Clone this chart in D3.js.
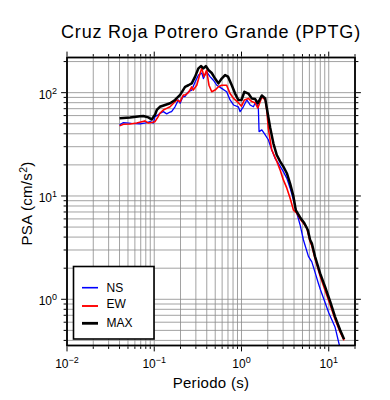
<!DOCTYPE html>
<html>
<head>
<meta charset="utf-8">
<script src="https://cdn.jsdelivr.net/npm/d3@7"></script>
<style>
  body { margin: 0; background: #fff; }
  text { font-family: "Liberation Sans", Arial, Helvetica, sans-serif; fill: #000; }
</style>
</head>
<body>
<div id="chart"></div>
<script>
// periods (s) and PSA (cm/s2)
var periodNS = [0.040, 0.0443, 0.055, 0.0687, 0.080, 0.0896, 0.0977, 0.102, 0.111, 0.116, 0.127, 0.139, 0.152, 0.158, 0.173, 0.189, 0.198, 0.212, 0.2256, 0.246, 0.269, 0.294, 0.321, 0.351, 0.366, 0.398, 0.436, 0.476, 0.521, 0.593, 0.676, 0.74, 0.81, 0.92, 0.964, 1.05, 1.15, 1.256, 1.37, 1.46, 1.56, 1.59, 1.71, 1.87, 2.03, 2.22, 2.43, 2.65, 3.02, 3.31, 3.61, 3.94, 4.31, 4.70, 5.13, 5.85, 6.4, 7.0, 7.6, 8.0, 10.0, 11.8, 13.3];
var psaNS = [48.6, 51.4, 50.5, 49.8, 51, 52.4, 50.8, 58.6, 61, 63, 65.5, 62.3, 65, 65.5, 73, 85, 79, 91, 92, 102, 106, 127, 148, 155, 137, 160, 143, 132, 118, 110, 102, 85, 76, 73, 65.5, 73, 85, 76, 73, 82, 71, 42, 43.6, 39, 35, 28, 23, 20.7, 17.2, 14.8, 11.9, 9.2, 6.8, 5.24, 3.75, 2.6, 2.3, 1.8, 1.43, 1.25, 0.74, 0.54, 0.353];

var periodEW = [0.040, 0.0443, 0.0528, 0.063, 0.072, 0.078, 0.0855, 0.0935, 0.102, 0.111, 0.116, 0.127, 0.139, 0.152, 0.166, 0.182, 0.198, 0.216, 0.2256, 0.246, 0.269, 0.28, 0.307, 0.336, 0.351, 0.372, 0.398, 0.424, 0.456, 0.498, 0.544, 0.593, 0.676, 0.74, 0.81, 0.92, 1.0, 1.08, 1.2, 1.31, 1.43, 1.54, 1.71, 1.87, 1.95, 2.03, 2.22, 2.54, 2.77, 3.02, 3.31, 3.61, 3.94, 4.31, 4.70, 5.26, 5.6, 6.12, 6.4, 6.98, 7.97, 9.09, 10.4, 11.8, 13.5, 15.0];
var psaEW = [47.7, 49.4, 49.8, 50.8, 52.4, 53.3, 50.8, 51.4, 52.4, 58.6, 63, 68, 70.5, 73, 79, 85, 81.8, 95, 95, 100, 114, 106, 118, 155, 172, 143, 165, 118, 102, 106, 114, 118, 118, 98, 88, 80, 74, 85, 88, 82, 80, 71, 91, 85, 68, 45, 28, 21.6, 17.9, 14.3, 11.9, 9.5, 7.3, 6.8, 6.0, 5.3, 4.9, 3.6, 3.3, 2.45, 1.68, 1.22, 0.88, 0.64, 0.48, 0.40];

var periodMAX = [0.040, 0.0528, 0.0687, 0.075, 0.0855, 0.0935, 0.102, 0.107, 0.116, 0.133, 0.152, 0.173, 0.198, 0.2256, 0.246, 0.269, 0.294, 0.321, 0.345, 0.366, 0.39, 0.42, 0.456, 0.498, 0.544, 0.593, 0.648, 0.70, 0.774, 0.845, 0.92, 1.0, 1.08, 1.2, 1.31, 1.43, 1.54, 1.71, 1.87, 1.95, 2.13, 2.32, 2.54, 2.77, 3.02, 3.31, 3.61, 3.94, 4.19, 4.70, 5.26, 5.76, 6.12, 6.4, 6.98, 7.97, 9.09, 10.4, 11.8, 13.5, 15.0];
var psaMAX = [56.5, 57.6, 59, 59.5, 57.6, 55, 61, 68, 73, 76, 79, 85, 95, 114, 118, 123, 143, 172, 181, 172, 181, 165, 155, 137, 123, 137, 148, 143, 118, 98, 85, 85, 102, 98, 88, 87, 79, 94, 88, 71, 46, 32.3, 24.9, 21.6, 19.2, 16.6, 13.2, 9.9, 7.3, 6.2, 5.44, 4.68, 3.75, 3.48, 2.58, 1.78, 1.32, 0.95, 0.68, 0.505, 0.41];

var xDecades = [-2, -1, 0, 1];
var yDecades = [0, 1, 2];
var seriesNames = ["NS", "EW", "MAX"];
var seriesColors = ["#0000ff", "#ff0000", "#000000"];
var seriesWidths = [1.3, 1.6, 2.5];

var width = 390, height = 400;
var plot = { left: 67, right: 355, top: 57.5, bottom: 345.5 };

var svg = d3.select("#chart").append("svg")
    .attr("width", width)
    .attr("height", height);

var x = d3.scaleLog().domain([0.01, 20]).range([plot.left, plot.right]);
var y = d3.scaleLog().domain([0.357, 219]).range([plot.bottom, plot.top]);

// grid values 1..9 per decade inside the domain
function logGrid(scale, lo, hi) {
    var vals = [];
    var dom = scale.domain();
    for (var d = lo; d <= hi; d++) {
        for (var m = 1; m <= 9; m++) {
            var v = m * Math.pow(10, d);
            if (v >= dom[0] * 0.999 && v <= dom[1] * 1.001) vals.push({ v: v, major: m == 1 });
        }
    }
    return vals;
}
var xGrid = logGrid(x, -2, 1);
var yGrid = logGrid(y, -1, 2);

var grid = svg.append("g").attr("stroke", "#8a8a8a").attr("stroke-width", 0.8);
grid.selectAll(".gx").data(xGrid).join("line")
    .attr("x1", d => x(d.v)).attr("x2", d => x(d.v))
    .attr("y1", plot.top).attr("y2", plot.bottom);
grid.selectAll(".gy").data(yGrid).join("line")
    .attr("y1", d => y(d.v)).attr("y2", d => y(d.v))
    .attr("x1", plot.left).attr("x2", plot.right);

// curves
svg.append("clipPath").attr("id", "clip").append("rect")
    .attr("x", plot.left).attr("y", plot.top)
    .attr("width", plot.right - plot.left).attr("height", plot.bottom - plot.top);

var line = d3.line().x(d => x(d[0])).y(d => y(d[1]));
var series = [
    d3.zip(periodNS, psaNS),
    d3.zip(periodEW, psaEW),
    d3.zip(periodMAX, psaMAX)
];
svg.append("g").attr("clip-path", "url(#clip)")
    .selectAll("path").data(series).join("path")
    .attr("d", line)
    .attr("fill", "none")
    .attr("stroke", (d, i) => seriesColors[i])
    .attr("stroke-width", (d, i) => seriesWidths[i])
    .attr("stroke-linejoin", "round");

// frame
svg.append("rect")
    .attr("x", plot.left).attr("y", plot.top)
    .attr("width", plot.right - plot.left).attr("height", plot.bottom - plot.top)
    .attr("fill", "none").attr("stroke", "#000").attr("stroke-width", 1.8);

// ticks on all four sides, pointing out
var ticks = svg.append("g").attr("stroke", "#000").attr("stroke-width", 1);
function tickLen(d) { return d.major ? 5 : 2.5; }
ticks.selectAll(".tb").data(xGrid).join("line")
    .attr("x1", d => x(d.v)).attr("x2", d => x(d.v))
    .attr("y1", plot.bottom + 0.9).attr("y2", d => plot.bottom + 0.9 + tickLen(d));
ticks.selectAll(".tt").data(xGrid).join("line")
    .attr("x1", d => x(d.v)).attr("x2", d => x(d.v))
    .attr("y1", plot.top - 0.9).attr("y2", d => plot.top - 0.9 - tickLen(d));
ticks.selectAll(".tl").data(yGrid).join("line")
    .attr("y1", d => y(d.v)).attr("y2", d => y(d.v))
    .attr("x1", plot.left - 0.9).attr("x2", d => plot.left - 0.9 - tickLen(d));
ticks.selectAll(".tr").data(yGrid).join("line")
    .attr("y1", d => y(d.v)).attr("y2", d => y(d.v))
    .attr("x1", plot.right + 0.9).attr("x2", d => plot.right + 0.9 + tickLen(d));

// tick labels 10^n
function powLabel(sel) {
    sel.append("tspan").text("10");
    sel.append("tspan").attr("dy", -5).attr("font-size", 9).text(d => d < 0 ? "\u2212" + (-d) : d);
}
svg.selectAll(".xl").data(xDecades).join("text")
    .attr("x", d => x(Math.pow(10, d)))
    .attr("y", 367.5)
    .attr("text-anchor", "middle")
    .attr("font-size", 12)
    .call(powLabel);
svg.selectAll(".yl").data(yDecades).join("text")
    .attr("x", 57)
    .attr("y", d => y(Math.pow(10, d)) + 6)
    .attr("text-anchor", "end")
    .attr("font-size", 12)
    .call(powLabel);

// title and axis labels
svg.append("text")
    .attr("x", (plot.left + plot.right) / 2).attr("y", 38)
    .attr("text-anchor", "middle").attr("font-size", 18)
    .attr("letter-spacing", 0.8)
    .text("Cruz Roja Potrero Grande (PPTG)");
svg.append("text")
    .attr("x", (plot.left + plot.right) / 2).attr("y", 387.5)
    .attr("text-anchor", "middle").attr("font-size", 15)
    .attr("letter-spacing", 0.3)
    .text("Periodo (s)");
var yLab = svg.append("text")
    .attr("transform", "translate(31.5," + ((plot.top + plot.bottom) / 2 + 2) + ") rotate(-90)")
    .attr("text-anchor", "middle").attr("font-size", 15)
    .attr("letter-spacing", 0.3);
yLab.append("tspan").text("PSA (cm/s");
yLab.append("tspan").attr("dy", -5).attr("font-size", 10.5).text("2");
yLab.append("tspan").attr("dy", 5).text(")");

// legend
var legend = svg.append("g");
legend.append("rect")
    .attr("x", 73.5).attr("y", 266.5).attr("width", 80.5).attr("height", 72.5)
    .attr("fill", "#fff").attr("stroke", "#000").attr("stroke-width", 1.6);
var legendLineY = [287.7, 306, 323.3];
var legendTextY = [291.8, 307.8, 327.3];
legend.selectAll("line").data(seriesNames).join("line")
    .attr("x1", 82).attr("x2", 98)
    .attr("y1", (d, i) => legendLineY[i]).attr("y2", (d, i) => legendLineY[i])
    .attr("stroke", (d, i) => seriesColors[i])
    .attr("stroke-width", (d, i) => seriesWidths[i] + 0.3);
legend.selectAll("text").data(seriesNames).join("text")
    .attr("x", 106.5).attr("y", (d, i) => legendTextY[i])
    .attr("font-size", 12)
    .text(d => d);
</script>
</body>
</html>
